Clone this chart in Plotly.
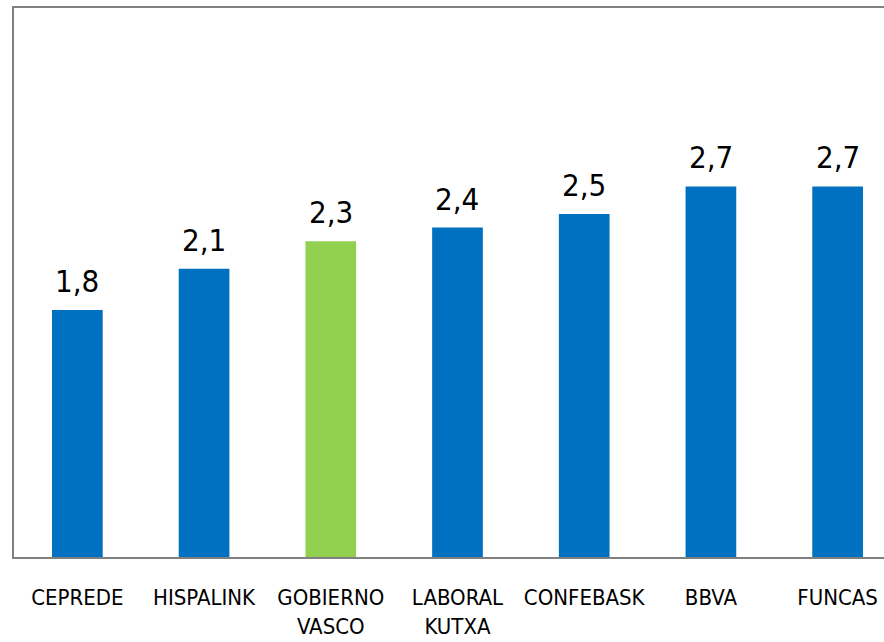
import plotly.graph_objects as go

categories = ["CEPREDE", "HISPALINK", "GOBIERNO<br>VASCO", "LABORAL<br>KUTXA", "CONFEBASK", "BBVA", "FUNCAS"]
values = [1.8, 2.1, 2.3, 2.4, 2.5, 2.7, 2.7]
highlight = "GOBIERNO<br>VASCO"

BLUE = "#0070C0"
GREEN = "#92D050"
FONT = "DejaVu Sans Condensed, Liberation Sans, sans-serif"

colors = [GREEN if c == highlight else BLUE for c in categories]
xs = list(range(len(categories)))

fig = go.Figure()
fig.add_trace(go.Bar(
    x=xs, y=values, marker=dict(color=colors, line=dict(width=0)),
    width=0.4, hoverinfo="skip",
))
for x, v in zip(xs, values):
    fig.add_annotation(x=x, y=v, text=f"{v:.1f}".replace(".", ","),
                       showarrow=False, yanchor="bottom", yshift=9,
                       font=dict(family=FONT, size=31, color="#000000"))

fig.update_layout(
    width=884, height=642,
    margin=dict(l=14, r=0, t=8, b=85),
    paper_bgcolor="white", plot_bgcolor="white",
    showlegend=False,
    font=dict(family=FONT, color="#000000"),
    bargap=0.6,
)
fig.update_xaxes(
    range=[-0.5, 6.366], tickmode="array", tickvals=xs, ticktext=categories,
    tickfont=dict(family=FONT, size=22, color="#000000"), tickangle=0,
    showline=True, linecolor="#808080", linewidth=2, mirror=True,
    showgrid=False, zeroline=False, ticks="", ticklabelstandoff=20,
    automargin=False, fixedrange=True,
)
fig.update_yaxes(
    range=[0, 4], showticklabels=False, showgrid=False, zeroline=False,
    showline=True, linecolor="#808080", linewidth=2, mirror=False, ticks="",
    automargin=False, fixedrange=True,
)
fig.write_html(
    "out.html",
    config={"displayModeBar": False},
    post_script="document.body.style.margin='0';document.body.style.overflow='hidden';",
)
